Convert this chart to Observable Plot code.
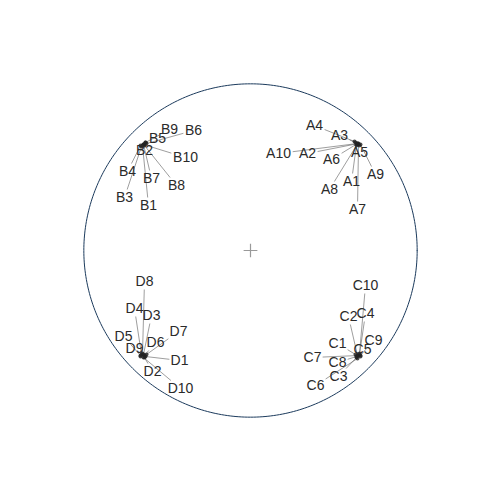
<!DOCTYPE html>
<html>
<head>
<meta charset="utf-8">
<script src="https://cdn.jsdelivr.net/npm/d3@7"></script>
<script src="https://cdn.jsdelivr.net/npm/@observablehq/plot@0.6"></script>
<style>
  html, body { margin: 0; padding: 0; background: #fff; }
  #chart { width: 500px; height: 500px; }
</style>
</head>
<body>
<div id="chart"></div>
<script>
// Labels
const labels = ["A1","A2","A3","A4","A5","A6","A7","A8","A9","A10",
                "B1","B2","B3","B4","B5","B6","B7","B8","B9","B10",
                "C1","C2","C3","C4","C5","C6","C7","C8","C9","C10",
                "D1","D2","D3","D4","D5","D6","D7","D8","D9","D10"];
// Point positions (unit-circle coordinates)
const pointX = [ 0.636, 0.648, 0.630, 0.624, 0.654, 0.642, 0.648, 0.636, 0.660, 0.642,
                -0.648,-0.636,-0.654,-0.660,-0.630,-0.624,-0.642,-0.636,-0.630,-0.642,
                 0.630, 0.642, 0.636, 0.654, 0.660, 0.642, 0.648, 0.636, 0.660, 0.654,
                -0.630,-0.636,-0.642,-0.654,-0.660,-0.636,-0.624,-0.648,-0.660,-0.642];
const pointY = [ 0.636, 0.642, 0.648, 0.654, 0.630, 0.642, 0.636, 0.630, 0.636, 0.642,
                 0.630, 0.636, 0.624, 0.630, 0.648, 0.642, 0.636, 0.630, 0.648, 0.636,
                -0.624,-0.630,-0.642,-0.624,-0.636,-0.648,-0.630,-0.636,-0.630,-0.618,
                -0.636,-0.642,-0.624,-0.624,-0.630,-0.630,-0.624,-0.618,-0.636,-0.642];
// Label positions (unit-circle coordinates)
const labelX = [ 0.606, 0.342, 0.534, 0.384, 0.654, 0.486, 0.642, 0.474, 0.750, 0.168,
                -0.612,-0.636,-0.756,-0.738,-0.558,-0.342,-0.594,-0.444,-0.486,-0.390,
                 0.522, 0.588, 0.528, 0.690, 0.672, 0.390, 0.372, 0.522, 0.738, 0.690,
                -0.426,-0.588,-0.594,-0.696,-0.762,-0.570,-0.432,-0.636,-0.696,-0.420];
const labelY = [ 0.414, 0.582, 0.690, 0.750, 0.588, 0.546, 0.246, 0.366, 0.456, 0.582,
                 0.270, 0.600, 0.318, 0.474, 0.672, 0.720, 0.432, 0.390, 0.726, 0.558,
                -0.558,-0.396,-0.756,-0.378,-0.594,-0.810,-0.642,-0.672,-0.540,-0.210,
                -0.660,-0.726,-0.390,-0.348,-0.516,-0.552,-0.486,-0.186,-0.588,-0.828];

const W = 500, H = 500, span = 1.5;
const pxPerUnit = W / (2 * span);
const fontSize = 14;

const rows = labels.map((name, i) => {
  const px = pointX[i], py = pointY[i], lx = labelX[i], ly = labelY[i];
  // leader line stops at the label's box
  const hw = (name.length * fontSize * 0.58 / 2 + 2) / pxPerUnit;
  const hh = (fontSize / 2 + 1) / pxPerUnit;
  const dx = px - lx, dy = py - ly;
  const t = Math.min(dx === 0 ? Infinity : hw / Math.abs(dx), dy === 0 ? Infinity : hh / Math.abs(dy));
  const ex = t < 1 ? lx + t * dx : px, ey = t < 1 ? ly + t * dy : py;
  return {name, px, py, lx, ly, ex, ey};
});

const ring = d3.range(0, 361, 1).map(a => ({x: Math.cos(a * Math.PI / 180), y: Math.sin(a * Math.PI / 180)}));
const origin = [{x: 0, y: 0}];

const chart = Plot.plot({
  width: W, height: H,
  margin: 0,
  x: {domain: [-span, span], axis: null},
  y: {domain: [-span, span], axis: null},
  style: {fontFamily: "'Liberation Sans', Arial, sans-serif", background: "#fff"},
  marks: [
    Plot.line(ring, {x: "x", y: "y", stroke: "#1b3a5c", strokeWidth: 1}),
    Plot.dot(origin, {x: "x", y: "y", symbol: "plus", r: 4.5, stroke: "#999", strokeWidth: 1.2}),
    Plot.link(rows, {x1: "px", y1: "py", x2: "ex", y2: "ey", stroke: "#666", strokeWidth: 0.8, strokeOpacity: 0.8}),
    Plot.dot(rows, {x: "px", y: "py", r: 2, fill: "#222", fillOpacity: 0.8}),
    Plot.text(rows, {x: "lx", y: "ly", text: "name", fontSize: fontSize, fill: "#2a2a2a", textAnchor: "middle", lineAnchor: "middle"})
  ]
});
document.getElementById("chart").appendChild(chart);
</script>
</body>
</html>
